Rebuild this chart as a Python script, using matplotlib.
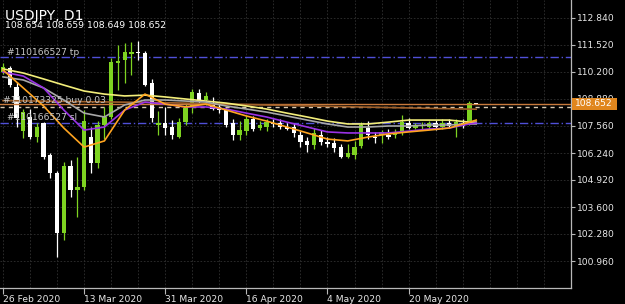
"""
USDJPY D1 candle chart, dark MT4 style, with moving averages and order lines
"""

import matplotlib
matplotlib.use("Agg")
import matplotlib.pyplot as plt
from matplotlib.patches import Rectangle

# bar dates (trading days) and OHLC
dates = ["26 Feb", "27 Feb", "28 Feb", "2 Mar", "3 Mar", "4 Mar", "5 Mar", "6 Mar", "9 Mar", "10 Mar",
         "11 Mar", "12 Mar", "13 Mar", "16 Mar", "17 Mar", "18 Mar", "19 Mar", "20 Mar", "23 Mar", "24 Mar",
         "25 Mar", "26 Mar", "27 Mar", "30 Mar", "31 Mar", "1 Apr", "2 Apr", "3 Apr", "6 Apr", "7 Apr",
         "8 Apr", "9 Apr", "10 Apr", "13 Apr", "14 Apr", "15 Apr", "16 Apr", "17 Apr", "20 Apr", "21 Apr",
         "22 Apr", "23 Apr", "24 Apr", "27 Apr", "28 Apr", "29 Apr", "30 Apr", "1 May", "4 May", "5 May",
         "6 May", "7 May", "8 May", "11 May", "12 May", "13 May", "14 May", "15 May", "18 May", "19 May",
         "20 May", "21 May", "22 May", "25 May", "26 May", "27 May", "28 May", "29 May", "1 Jun", "2 Jun",
         "3 Jun"]

opens = [110.20, 110.40, 109.47, 107.31, 108.00, 107.02, 107.70, 106.14, 105.26, 102.33,
         105.60, 104.43, 104.58, 107.02, 105.75, 107.60, 108.00, 110.64, 110.79, 111.10,
         111.18, 111.14, 109.65, 107.61, 107.69, 107.50, 107.04, 107.77, 108.50, 109.19,
         108.83, 108.68, 108.49, 108.34, 107.70, 107.12, 107.33, 107.89, 107.45, 107.52,
         107.70, 107.72, 107.52, 107.52, 107.12, 106.83, 106.63, 107.12, 106.79, 106.71,
         106.52, 106.06, 106.14, 106.60, 107.45, 107.04, 107.12, 107.12, 107.12, 107.23,
         107.69, 107.45, 107.56, 107.50, 107.69, 107.50, 107.72, 107.56, 107.72, 107.69,
         108.654]
highs = [110.65, 110.50, 109.70, 108.40, 108.40, 107.70, 107.75, 106.25, 105.35, 105.80,
         105.90, 106.04, 108.34, 107.50, 107.80, 108.49, 110.90, 111.52, 111.60, 111.68,
         111.72, 111.25, 109.85, 108.30, 108.50, 107.85, 107.95, 108.65, 109.38, 109.37,
         109.20, 109.00, 108.70, 108.45, 107.90, 107.80, 108.05, 108.05, 107.80, 107.90,
         107.90, 107.90, 107.72, 107.72, 107.30, 107.00, 107.45, 107.36, 107.00, 106.96,
         106.67, 106.67, 106.83, 107.75, 107.80, 107.25, 107.36, 107.40, 107.40, 108.08,
         107.95, 107.72, 107.75, 107.80, 107.85, 107.90, 107.90, 107.90, 107.90, 108.78,
         108.659]
lows = [110.12, 109.45, 107.50, 106.95, 106.90, 106.80, 105.95, 105.00, 101.15, 101.98,
        104.10, 103.10, 104.45, 105.26, 105.50, 106.90, 107.90, 109.32, 109.65, 110.05,
        110.80, 109.50, 107.75, 107.12, 107.12, 106.92, 106.95, 107.60, 108.20, 108.68,
        108.60, 108.34, 108.20, 107.50, 106.87, 106.87, 107.12, 107.30, 107.35, 107.30,
        107.50, 107.40, 107.35, 107.00, 106.55, 106.30, 106.42, 106.63, 106.55, 106.30,
        105.99, 105.99, 105.95, 106.50, 106.90, 106.75, 106.75, 106.90, 106.95, 107.10,
        107.40, 107.40, 107.40, 107.40, 107.35, 107.40, 107.45, 107.04, 107.45, 107.60,
        108.649]
closes = [110.42, 109.56, 107.95, 108.24, 107.02, 107.50, 106.05, 105.26, 102.33, 105.60,
          104.43, 104.58, 107.80, 105.75, 107.60, 108.00, 110.69, 110.74, 111.19, 111.16,
          111.14, 109.56, 107.94, 107.72, 107.45, 107.12, 107.77, 108.42, 109.20, 108.83,
          109.05, 108.40, 108.34, 107.61, 107.12, 107.36, 107.89, 107.40, 107.61, 107.77,
          107.68, 107.52, 107.40, 107.20, 106.79, 106.63, 107.20, 106.79, 106.68, 106.47,
          106.06, 106.25, 106.52, 107.61, 107.12, 106.96, 107.28, 107.04, 107.28, 107.77,
          107.45, 107.56, 107.58, 107.69, 107.50, 107.72, 107.56, 107.76, 107.56, 108.67,
          108.652]

# moving averages, read every third bar
ma_bars = [0, 3, 6, 9, 12, 15, 18, 21, 24, 27, 30, 33, 36, 39, 42, 45, 48, 51, 54, 57, 60, 63, 66, 69, 70]
ma_orange = [110.30, 109.42, 108.54, 107.46, 106.53, 106.83, 108.34, 109.12, 108.63, 108.49, 108.63, 108.34,
             108.05, 107.80, 107.51, 107.22, 106.92, 106.83, 107.02, 107.17, 107.27, 107.36, 107.46, 107.75,
             107.85]
ma_purple = [110.20, 110.00, 109.42, 108.34, 107.36, 107.51, 108.34, 108.73, 108.63, 108.49, 108.49, 108.39,
             108.19, 108.00, 107.75, 107.51, 107.27, 107.22, 107.22, 107.22, 107.31, 107.41, 107.46, 107.66,
             107.71]
ma_gray = [109.96, 109.81, 109.42, 108.83, 108.19, 108.00, 108.59, 108.83, 108.83, 108.78, 108.73, 108.54,
           108.39, 108.24, 108.05, 107.85, 107.66, 107.51, 107.51, 107.56, 107.56, 107.61, 107.61, 107.66,
           107.66]
ma_yellow = [110.35, 110.15, 109.86, 109.56, 109.27, 109.12, 109.03, 109.07, 108.98, 108.88, 108.78, 108.68,
             108.54, 108.39, 108.19, 108.00, 107.80, 107.66, 107.66, 107.75, 107.85, 107.85, 107.85, 107.75,
             107.75]
slow_bars = [0, 24, 48, 70]
ma_slow = [108.80, 108.70, 108.52, 108.38]

# order lines
tp_price = 110.92
sl_price = 107.72
buy_price = 108.47
bid_price = 108.652

ohlc_text = "108.654 108.659 108.649 108.652"
yticks = [112.84, 111.52, 110.20, 108.88, 107.56, 106.24, 104.92, 103.60, 102.28, 100.96]
xtick_bars = [0, 12, 24, 36, 48, 60]
xtick_labels = ["26 Feb 2020", "13 Mar 2020", "31 Mar 2020", "16 Apr 2020", "4 May 2020", "20 May 2020"]

W, H = 625, 304
BULL = "#7ed321"
FG = "#e8e8e8"


def fx(px):
    return px / W


def fy(px):
    return 1 - px / H


def main():
    fig = plt.figure(figsize=(W / 100, H / 100), dpi=100, facecolor="black")
    ax = fig.add_axes([0, 16 / H, 571 / W, 288 / H], facecolor="black")
    ax.set_xlim(-0.444, 84.02)
    ax.set_ylim(99.64, 113.72)

    # grid
    for g in range(0, 85, 4):
        ax.axvline(g, color="#303030", lw=0.6, ls=(0, (2, 2)), zorder=0)
    for p in yticks:
        ax.axhline(p, color="#303030", lw=0.6, ls=(0, (2, 2)), zorder=0)

    # candles
    for i in range(len(opens)):
        o, h, l, c = opens[i], highs[i], lows[i], closes[i]
        col = BULL if c >= o else "white"
        ax.vlines(i, l, h, color=col, lw=0.9, zorder=2)
        bot = min(o, c)
        hgt = max(abs(c - o), 0.05)
        ax.bar(i, hgt, bottom=bot, width=0.64, color=col, lw=0, zorder=3)

    # order lines
    ax.axhline(tp_price, color="#5050d8", lw=1.0, ls=(0, (6, 2, 1, 2)), zorder=1)
    ax.axhline(sl_price, color="#5050d8", lw=1.0, ls=(0, (6, 2, 1, 2)), zorder=1)
    ax.axhline(buy_price, color="#d8c8b0", lw=1.0, ls=(0, (3, 3)), zorder=1)
    ax.axhline(bid_price, color="#c87a3c", lw=1.0, zorder=4)

    # moving averages
    ax.plot(slow_bars, ma_slow, color="#a0602a", lw=1.2, zorder=4)
    ax.plot(ma_bars, ma_yellow, color="#f3ee7a", lw=1.2, zorder=5)
    ax.plot(ma_bars, ma_gray, color="#a8a8a8", lw=1.2, zorder=5)
    ax.plot(ma_bars, ma_purple, color="#9a32e6", lw=1.2, zorder=5)
    ax.plot(ma_bars, ma_orange, color="#ffa420", lw=1.2, zorder=5)

    # axes
    for s in ["top", "left"]:
        ax.spines[s].set_visible(False)
    for s in ["right", "bottom"]:
        ax.spines[s].set_color("#b8b8b8")
        ax.spines[s].set_linewidth(0.9)
    ax.yaxis.tick_right()
    ax.set_yticks(yticks, ["%.3f" % v for v in yticks])
    ax.tick_params(axis="y", colors="#b8b8b8", labelcolor=FG, length=3, width=0.8, pad=1, labelsize=6.6)
    ax.set_xticks(xtick_bars, xtick_labels)
    ax.tick_params(axis="x", colors="#b8b8b8", labelcolor=FG, length=4, width=0.8, pad=1, labelsize=6.6)
    for lbl in ax.get_xticklabels():
        lbl.set_horizontalalignment("left")

    # header texts
    fig.text(fx(5), fy(20), "USDJPY, D1", color="white", fontsize=10, va="baseline")
    fig.text(fx(5), fy(28.5), ohlc_text, color="white", fontsize=6.7, va="baseline")

    # order labels
    fig.text(fx(7), fy(55), "#110166527 tp", color="#c8c8c8", fontsize=6.6, va="baseline")
    fig.text(fx(3), fy(103), "#110173325 buy 0.03", color="#c8c8c8", fontsize=6.6, va="baseline", zorder=1)
    fig.text(fx(7), fy(120), "#110166527 sl", color="#c8c8c8", fontsize=6.6, va="baseline")

    # last price box
    fig.patches.append(Rectangle((fx(572), fy(109.5)), 45 / W, 11.5 / H, transform=fig.transFigure,
                                 facecolor="#e0861e", edgecolor="none", zorder=10))
    fig.text(fx(575), fy(103.7), "%.3f" % bid_price, color="white", fontsize=6.6, va="center", zorder=11)

    fig.savefig("out.png", dpi=100, facecolor="black")


if __name__ == "__main__":
    main()
